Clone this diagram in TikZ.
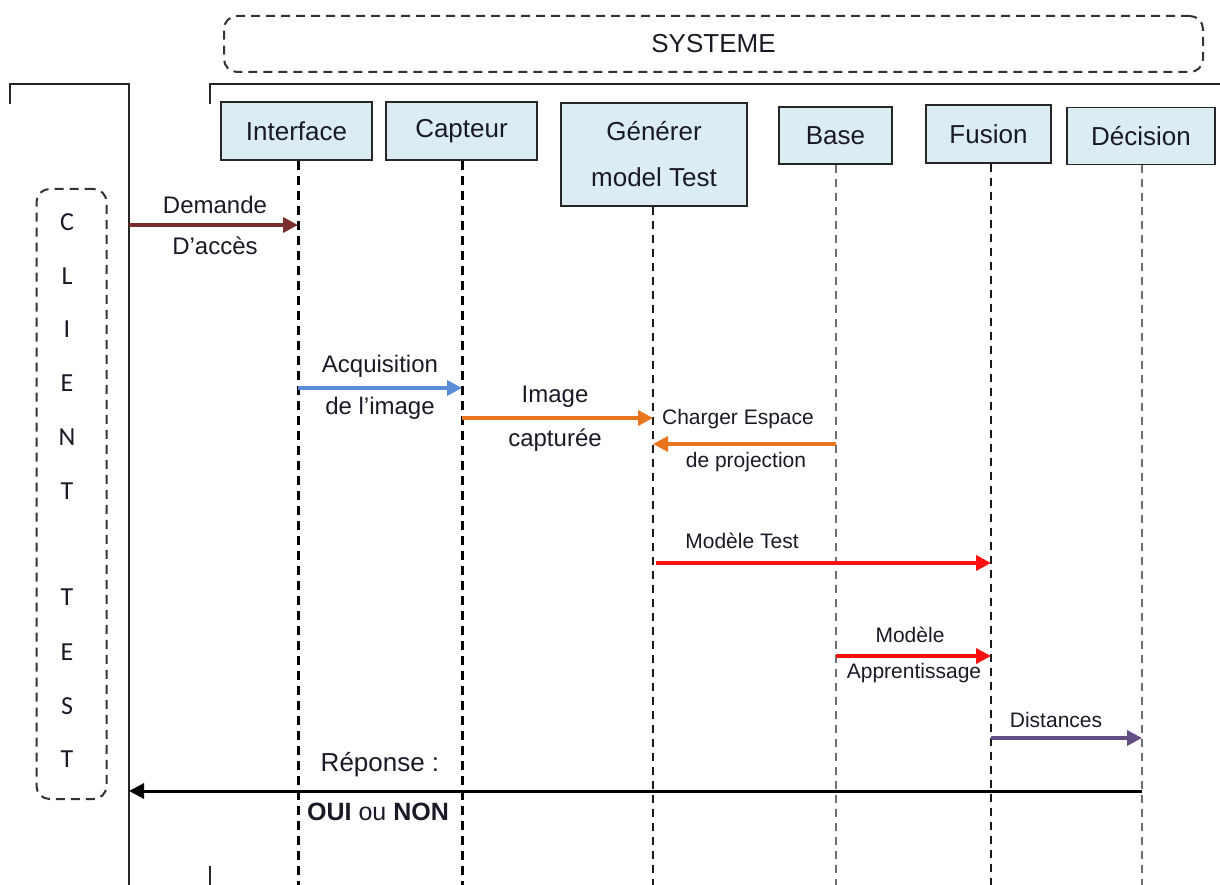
\documentclass[tikz,border=0pt]{standalone}
\usepackage{fontspec}
\setmainfont{Liberation Sans}
\newfontfamily\letterfont{Carlito}
\usetikzlibrary{arrows.meta}

\definecolor{boxblue}{HTML}{DBEDF3}
\definecolor{txt}{HTML}{1A1A26}
\definecolor{msgbrown}{HTML}{7A2E2E}
\definecolor{msgblue}{HTML}{5A8ED8}
\definecolor{msgorange}{HTML}{E8741E}
\definecolor{msgred}{HTML}{FF1010}
\definecolor{msgpurple}{HTML}{634F86}
\definecolor{lifegray}{HTML}{6E6E6E}

\newcommand{\fs}[1]{\fontsize{#1}{#1}\selectfont}

\tikzset{
  lifebox/.style={draw=black!85, line width=1.6pt, fill=boxblue, inner sep=0pt,
    text=txt, font=\fs{26}, align=center},
  frame/.style={line width=1.6pt, black!85},
  dashbox/.style={draw=black!80, line width=2pt, dash pattern=on 9pt off 6pt, rounded corners=13pt},
  lifethick/.style={line width=3pt, black, dash pattern=on 9pt off 6pt},
  lifethin/.style={line width=2pt, black!90, dash pattern=on 8pt off 6pt},
  lifegrey/.style={line width=2.4pt, lifegray, dash pattern=on 8pt off 6pt},
  msg/.style={line width=3.4pt, -{Triangle[length=15pt, width=15pt]}},
  lbl/.style={text=txt, inner sep=0pt, font=\fs{#1}},
  lbl/.default=24,
  clientletter/.style={text=txt, inner sep=0pt, font=\letterfont\fs{26}}
}

\begin{document}
\begin{tikzpicture}[x=1pt, y=-1pt]
\useasboundingbox (0,0) rectangle (1220,885);

% system banner
\node[dashbox, minimum width=979pt, minimum height=56pt, inner sep=0pt,
      text=txt, font=\fs{26}] (systeme) at (713.5,44) {SYSTEME};

% client frame and system frame
\draw[frame] (10,104) -- (10,84) -- (129,84) -- (129,885);
\draw[frame] (210,104) -- (210,84) -- (1220,84);
\draw[frame] (210,866) -- (210,885);

% client actor
\node[dashbox, minimum width=70pt, minimum height=610pt, inner sep=0pt] (client) at (71.5,494) {};
\foreach \l/\y [count=\i] in {C/222, L/276, I/329, E/383, N/437, T/491, T/597, E/652, S/706, T/759}
  \node[clientletter] (cl\i) at (67,\y) {\l};

% lifeline heads
\node[lifebox, minimum width=151pt, minimum height=58pt] (iface) at (296.5,131) {Interface};
\node[lifebox, minimum width=151pt, minimum height=58pt] (capt) at (461.5,131) {Capteur};
\node[lifebox, minimum width=186pt, minimum height=103pt] (gen) at (654,154.5) {Générer\\[20pt]model Test};
\node[lifebox, minimum width=113pt, minimum height=57pt] (base) at (835.5,135.5) {Base};
\node[lifebox, minimum width=125pt, minimum height=58pt] (fus) at (988.5,134) {Fusion};
\node[lifebox, minimum width=148pt, minimum height=57pt] (dec) at (1141,136) {Décision};

% lifeline ends
\coordinate (ifaceE) at (298,885);
\coordinate (captE) at (462,885);
\coordinate (genE) at (653,885);
\coordinate (baseE) at (836,885);
\coordinate (fusE) at (991,885);
\coordinate (decE) at (1142,885);
\coordinate (clientE) at (129,885);

\draw[lifethick] (iface.south -| ifaceE) -- (ifaceE);
\draw[lifethick] (capt.south -| captE) -- (captE);
\draw[lifethin] (gen.south -| genE) -- (genE);
\draw[lifegrey] (base.south -| baseE) -- (baseE);
\draw[lifethin] (fus.south -| fusE) -- (fusE);
\draw[lifegrey] (dec.south -| decE) -- (decE);

% message rows
\coordinate (r1) at (0,225);
\coordinate (r2) at (0,388);
\coordinate (r3) at (0,418);
\coordinate (r4) at (0,444);
\coordinate (r5) at (0,563);
\coordinate (r6) at (0,656);
\coordinate (r7) at (0,738);
\coordinate (r8) at (0,791);

\draw[msg, msgbrown] (clientE |- r1) -- (ifaceE |- r1);
\draw[msg, msgblue] (ifaceE |- r2) -- (captE |- r2);
\draw[msg, msgorange] (captE |- r3) -- (genE |- r3);
\draw[msg, msgorange] (baseE |- r4) -- (genE |- r4);
\draw[msg, msgred] ([xshift=3pt]genE |- r5) -- (fusE |- r5);
\draw[msg, msgred] (baseE |- r6) -- (fusE |- r6);
\draw[msg, msgpurple] (fusE |- r7) -- (decE |- r7);
\draw[msg, black, line width=3pt] (decE |- r8) -- (clientE |- r8);

% message labels
\node[lbl] (t1a) at (215,205) {Demande};
\node[lbl] (t1b) at (215,246) {D’accès};
\node[lbl] (t2a) at (380,366) {Acquisition};
\node[lbl] (t2b) at (380,408) {de l’image};
\node[lbl] (t3a) at (555,397) {Image};
\node[lbl] (t3b) at (555,440) {capturée};
\node[lbl=21] (t4a) at (738,419) {Charger Espace};
\node[lbl=21] (t4b) at (746,462) {de projection};
\node[lbl=21] (t5) at (742,541) {Modèle Test};
\node[lbl=21] (t6a) at (910,635) {Modèle};
\node[lbl=21] (t6b) at (914,673) {Apprentissage};
\node[lbl=21] (t7) at (1056,720) {Distances};
\node[lbl=26] (t8a) at (380,765) {Réponse :};
\node[lbl=25] (t8b) at (378,812) {\textbf{OUI} ou \textbf{NON}};
\end{tikzpicture}
\end{document}
